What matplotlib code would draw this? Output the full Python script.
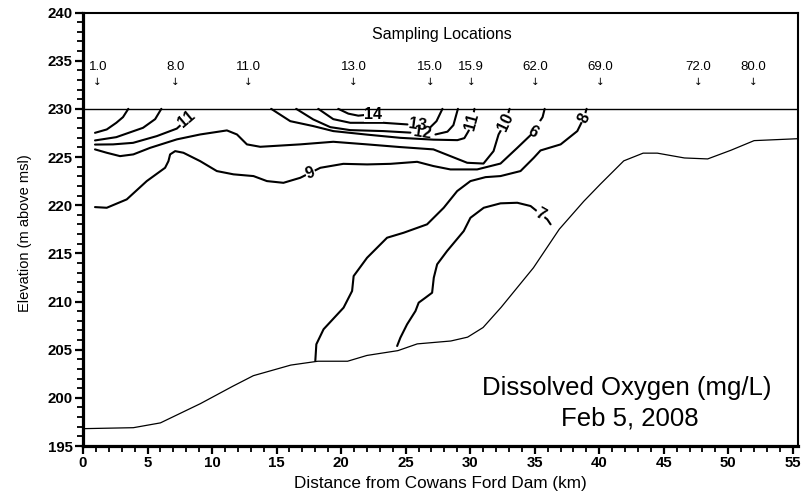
import matplotlib
matplotlib.use("Agg")
import matplotlib.pyplot as plt
from matplotlib.ticker import MultipleLocator

plt.rcParams['font.family'] = ['Liberation Sans', 'DejaVu Sans']

# Lake bed profile (distance km, elevation m)
bed_km = [0, 3.9, 6.0, 9.1, 11.6, 13.2, 16.1, 18.2, 20.5, 22.0, 24.4, 25.9, 28.5,
          29.8, 31.0, 32.4, 34.9, 36.9, 38.8, 40.1, 41.9, 43.4, 44.5, 46.6, 48.4,
          50.2, 52.0, 55.4]
bed_elev = [196.8, 196.9, 197.4, 199.4, 201.2, 202.3, 203.4, 203.8, 203.8, 204.4,
            204.9, 205.6, 205.9, 206.3, 207.3, 209.4, 213.5, 217.5, 220.4, 222.2,
            224.6, 225.4, 225.4, 224.9, 224.8, 225.7, 226.7, 226.9]

surface_elev = 230.0

# Dissolved-oxygen isolines (mg/L)
do13_left_km = [0.93, 1.84, 2.58, 3.10, 3.51]
do13_left_elev = [227.51, 227.86, 228.55, 229.14, 230.0]

do12_left_km = [0.93, 2.58, 4.65, 5.59, 6.07]
do12_left_elev = [226.72, 227.06, 228.03, 228.93, 230.0]

do11_left_km = [0.93, 2.33, 3.88, 5.72, 7.27, 8.07]
do11_left_elev = [226.29, 226.31, 226.47, 227.17, 227.95, 228.93]

do10_km = [0.93, 1.84, 2.87, 3.90, 5.20, 7.27, 9.08, 11.15, 11.93, 12.70, 13.73,
           16.83, 19.39, 22.01, 24.59, 27.15, 28.47, 29.77, 31.03, 31.81, 32.20,
           32.74, 33.05]
do10_elev = [225.79, 225.44, 225.09, 225.27, 225.95, 226.83, 227.34, 227.76, 227.34,
             226.31, 226.06, 226.31, 226.58, 226.31, 226.03, 225.79, 225.09, 224.40,
             224.32, 225.61, 227.34, 228.62, 230.0]

do11_km = [14.58, 16.06, 17.84, 19.39, 22.03, 24.59, 27.15, 29.01, 29.55, 29.87,
           30.15, 30.33]
do11_elev = [230.0, 228.72, 228.21, 227.69, 227.32, 226.99, 226.80, 226.75, 226.96,
             227.69, 228.72, 230.0]

do12_km = [16.52, 17.84, 19.16, 20.71, 23.27, 25.37, 26.30, 27.31, 28.24, 28.70,
           29.05]
do12_elev = [230.0, 228.90, 228.10, 227.79, 227.69, 227.53, 227.53, 227.34, 227.63,
             228.31, 230.0]

do13_km = [18.23, 19.39, 20.71, 23.27, 25.14, 25.89, 26.92, 27.39, 27.85]
do13_elev = [230.0, 228.93, 228.55, 228.55, 228.38, 228.38, 228.10, 228.72, 230.0]

do14_km = [19.78, 20.56, 21.33, 22.50]
do14_elev = [230.0, 229.50, 229.29, 229.45]

do9_km = [0.93, 1.84, 3.39, 4.94, 6.36, 6.62, 6.75, 7.14, 7.78, 9.08, 10.37, 11.66,
          13.21, 14.25, 15.53, 16.83, 17.61, 18.39, 20.17, 22.01, 23.82, 25.89,
          27.15, 28.47, 30.54, 32.35, 33.65, 34.68, 35.07, 35.61, 35.77]
do9_elev = [219.80, 219.73, 220.60, 222.50, 223.88, 224.57, 225.27, 225.61, 225.44,
            224.57, 223.54, 223.20, 223.02, 222.50, 222.32, 222.84, 223.36, 223.88,
            224.29, 224.23, 224.29, 224.50, 224.06, 223.71, 223.71, 224.32, 225.95,
            227.27, 228.03, 229.14, 230.0]

do8_km = [18.00, 18.08, 18.64, 20.19, 20.85, 20.97, 22.01, 23.56, 24.85, 26.66,
          27.95, 28.99, 30.02, 31.19, 32.35, 33.90, 34.93, 35.45, 37.01, 38.30,
          38.81, 39.02]
do8_elev = [203.85, 205.56, 207.12, 209.36, 211.09, 212.64, 214.54, 216.62, 217.14,
            218.01, 219.73, 221.46, 222.50, 222.91, 223.02, 223.54, 224.92, 225.68,
            226.31, 227.69, 229.07, 230.0]

do7_km = [24.34, 24.59, 25.11, 25.76, 26.01, 26.53, 27.05, 27.18, 27.44, 28.21,
          29.50, 30.02, 31.05, 32.35, 33.65, 34.68, 35.45, 35.97, 36.23]
do7_elev = [205.38, 206.24, 207.63, 209.01, 209.88, 210.39, 210.91, 212.47, 213.86,
            215.24, 217.31, 218.69, 219.73, 220.19, 220.25, 219.91, 219.08, 218.53,
            218.01]

# Isoline labels: text, km, elevation, rotation, white backing
label_text = ["11", "9", "14", "12", "13", "11", "10", "9", "8", "7"]
label_km = [8.07, 17.61, 22.50, 26.30, 25.89, 30.15, 32.74, 35.07, 38.81, 35.45]
label_elev = [228.93, 223.36, 229.45, 227.53, 228.38, 228.72, 228.62, 228.03, 229.07, 219.08]
label_rot = [40, 20, 0, -8, -8, 75, 65, 150, 65, -30]
label_boxed = [True, True, True, False, False, True, True, True, True, True]

# Sampling locations along the reservoir
station_names = ["1.0", "8.0", "11.0", "13.0", "15.0", "15.9", "62.0", "69.0", "72.0", "80.0"]
station_km = [1.14, 7.14, 12.84, 20.98, 26.88, 30.09, 35.03, 40.11, 47.69, 51.92]

fig = plt.figure(figsize=(8.11, 4.96), dpi=100)
ax = fig.add_axes([83 / 811, 1 - 446 / 496, (798 - 83) / 811, (446 - 12.5) / 496])
ax.set_xlim(0, 55.4)
ax.set_ylim(195, 240)

line_kw = dict(color='black', lw=1.5, solid_capstyle='round', solid_joinstyle='round')
ax.plot(bed_km, bed_elev, color='black', lw=0.9)
ax.axhline(surface_elev, color='black', lw=1.0, zorder=5)

for xs, ys in [(do13_left_km, do13_left_elev), (do12_left_km, do12_left_elev),
               (do11_left_km, do11_left_elev), (do10_km, do10_elev),
               (do11_km, do11_elev), (do14_km, do14_elev), (do9_km, do9_elev),
               (do8_km, do8_elev), (do7_km, do7_elev)]:
    ax.plot(xs, ys, **line_kw)

# The 12 and 13 isolines are broken where their labels sit
for xs, ys, k in [(do12_km, do12_elev, 6), (do13_km, do13_elev, 5)]:
    ax.plot(xs[:k], ys[:k], **line_kw)
    ax.plot(xs[k + 1:], ys[k + 1:], **line_kw)

for t, x, y, r, boxed in zip(label_text, label_km, label_elev, label_rot, label_boxed):
    box = dict(facecolor='white', edgecolor='none', pad=0.3) if boxed else None
    ax.text(x, y, t, ha='center', va='center', rotation=r, fontsize=11.5,
            fontweight='bold', zorder=4, bbox=box)

# Station markers above the water surface
ax.text(27.77, 237.75, "Sampling Locations", ha='center', va='center', fontsize=11.5)
for name, x in zip(station_names, station_km):
    ax.text(x, 234.36, name, ha='center', va='center', fontsize=9.5)
    ax.text(x, 232.8, "\u2193", ha='center', va='center', fontsize=7.5,
            family='DejaVu Sans')

ax.text(42.1, 201.06, "Dissolved Oxygen (mg/L)", ha='center', va='center', fontsize=18.5)
ax.text(42.4, 197.81, "Feb 5, 2008", ha='center', va='center', fontsize=18.5)

# Axes styling
ax.xaxis.set_major_locator(MultipleLocator(5))
ax.xaxis.set_minor_locator(MultipleLocator(1))
ax.yaxis.set_major_locator(MultipleLocator(5))
ax.yaxis.set_minor_locator(MultipleLocator(1))
ax.tick_params(axis='both', which='major', direction='out', length=6, width=1.6,
               labelsize=10.8, pad=1.5)
ax.tick_params(axis='both', which='minor', direction='out', length=4, width=1.3)
for lab in ax.get_xticklabels() + ax.get_yticklabels():
    lab.set_fontweight('bold')
ax.spines['left'].set_linewidth(2.3)
ax.spines['bottom'].set_linewidth(2.3)
ax.spines['top'].set_linewidth(1.5)
ax.spines['right'].set_linewidth(1.5)

ax.set_xlabel("Distance from Cowans Ford Dam (km)", fontsize=12.3)
ax.set_ylabel("Elevation (m above msl)", fontsize=10.5)
ax.xaxis.set_label_coords(0.5, -0.069)
ax.yaxis.set_label_coords(-0.071, 0.49)

fig.savefig("out.png", dpi=100)
